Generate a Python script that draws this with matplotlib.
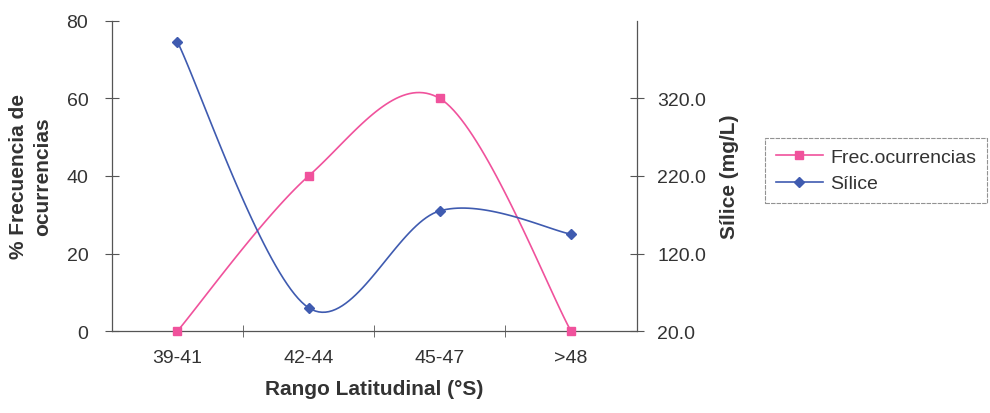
import numpy as np
import matplotlib
matplotlib.use("Agg")
import matplotlib.pyplot as plt
from matplotlib.lines import Line2D

plt.rcParams["font.family"] = ["Liberation Sans", "DejaVu Sans"]

CATS = ["39-41", "42-44", "45-47", ">48"]
FREC = [0, 40, 60, 0]              # % frecuencia de ocurrencias
SILICE = [393, 50, 175, 145]       # mg/L
LEFT_TICKS = [0, 20, 40, 60, 80]
RIGHT_TICKS = [20, 120, 220, 320]

PINK = "#f0529c"
BLUE = "#3f5bb0"


def smooth(x, y, n=40):
    """Excel-style smoothed line: Bezier segments with Catmull-Rom control points."""
    x = np.asarray(x, float); y = np.asarray(y, float)
    px = np.concatenate([[x[0]], x, [x[-1]]])
    py = np.concatenate([[y[0]], y, [y[-1]]])
    t = np.linspace(0, 1, n)[:, None]
    out = []
    for i in range(1, len(x)):
        p0 = np.array([px[i], py[i]]); p3 = np.array([px[i+1], py[i+1]])
        c1 = p0 + (np.array([px[i+1], py[i+1]]) - np.array([px[i-1], py[i-1]])) / 6
        c2 = p3 - (np.array([px[i+2], py[i+2]]) - np.array([px[i], py[i]])) / 6
        seg = (1-t)**3*p0 + 3*(1-t)**2*t*c1 + 3*(1-t)*t**2*c2 + t**3*p3
        out.append(seg if i == 1 else seg[1:])
    pts = np.vstack(out)
    return pts[:, 0], pts[:, 1]


fig = plt.figure(figsize=(9.9, 4.14), dpi=100)
ax = fig.add_axes([0.113, 0.198, 0.530, 0.749])
ax2 = ax.twinx()

xs = np.arange(len(CATS))
sx, sy = smooth(xs, FREC)
ax.plot(sx, sy, color=PINK, lw=1.2, zorder=3)
ax.plot(xs, FREC, ls="none", marker="s", ms=6, color=PINK, zorder=4, clip_on=False)

bx, by = smooth(xs, SILICE)
ax2.plot(bx, by, color=BLUE, lw=1.2, zorder=3)
ax2.plot(xs, SILICE, ls="none", marker="D", ms=5.5, color=BLUE, zorder=4, clip_on=False)

ax.set_xlim(-0.5, len(CATS) - 0.5)
ax.set_ylim(0, 80)
ax2.set_ylim(20, 420)
ax.set_yticks(LEFT_TICKS)
ax2.set_yticks(RIGHT_TICKS)
ax2.set_yticklabels(["%.1f" % v for v in RIGHT_TICKS])

ax.set_xticks(xs)
ax.set_xticklabels(CATS)
ax.set_xticks(xs[:-1] + 0.5, minor=True)
ax.tick_params(axis="x", which="major", length=0, pad=13, labelsize=14, colors="#333333")
ax.tick_params(axis="x", which="minor", length=8, direction="inout", color="#555555")
ax.tick_params(axis="y", length=10, direction="inout", pad=12, labelsize=14,
               labelcolor="#333333", color="#555555")
ax2.tick_params(axis="y", length=10, direction="inout", pad=10, labelsize=14,
                labelcolor="#333333", color="#555555")

for a in (ax, ax2):
    a.spines["top"].set_visible(False)
    for s in ("left", "right", "bottom"):
        a.spines[s].set_color("#555555")
        a.spines[s].set_linewidth(0.9)
ax.spines["right"].set_visible(False)
ax2.spines["left"].set_visible(False)
ax2.spines["bottom"].set_visible(False)

ax.set_xlabel("Rango Latitudinal (°S)", fontsize=15, fontweight="bold",
              color="#333333", labelpad=9)
ax.set_ylabel("% Frecuencia de\nocurrencias", fontsize=15, fontweight="bold",
              color="#333333", labelpad=10, linespacing=1.35)
ax2.set_ylabel("Sílice (mg/L)", fontsize=15, fontweight="bold",
               color="#333333", labelpad=10)

handles = [Line2D([], [], color=PINK, marker="s", ms=6, lw=1.2),
           Line2D([], [], color=BLUE, marker="D", ms=5, lw=1.2)]
leg = fig.legend(handles, ["Frec.ocurrencias", "Sílice"], loc="upper left",
                 bbox_to_anchor=(0.773, 0.665), frameon=True, fancybox=False,
                 fontsize=14, handlelength=2.4, borderpad=0.55, labelspacing=0.45,
                 handletextpad=0.4, borderaxespad=0)
leg.get_frame().set_edgecolor("#777777")
leg.get_frame().set_linewidth(0.8)
leg.get_frame().set_linestyle((0, (4, 1)))
for t in leg.get_texts():
    t.set_color("#333333")

fig.savefig("out.png", dpi=100)
